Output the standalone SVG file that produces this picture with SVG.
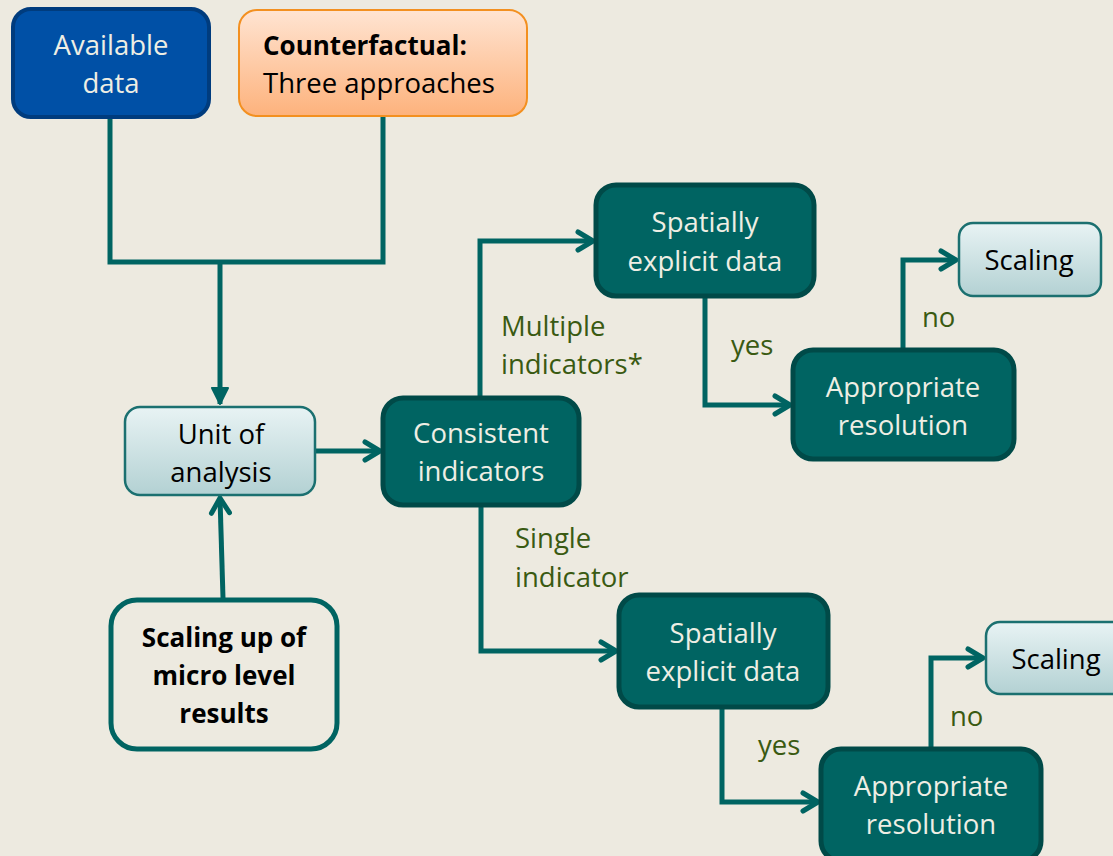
<svg xmlns="http://www.w3.org/2000/svg" width="1113" height="856" viewBox="0 0 1113 856">
  <defs>
    <linearGradient id="gOrange" x1="0" y1="0" x2="0" y2="1">
      <stop offset="0" stop-color="#FFE4D2"/>
      <stop offset="1" stop-color="#FDB27C"/>
    </linearGradient>
    <linearGradient id="gLight" x1="0" y1="0" x2="0" y2="1">
      <stop offset="0" stop-color="#E8F3F4"/>
      <stop offset="1" stop-color="#B3D1D3"/>
    </linearGradient>
    <marker id="chev" viewBox="0 0 20 24" refX="18" refY="12" markerWidth="20" markerHeight="24" markerUnits="userSpaceOnUse" orient="auto">
      <path d="M3,3 L18,12 L3,21" fill="none" stroke="#006462" stroke-width="5" stroke-linecap="round" stroke-linejoin="round"/>
    </marker>
    <marker id="tri" viewBox="0 0 20 20" refX="18" refY="10" markerWidth="20" markerHeight="20" markerUnits="userSpaceOnUse" orient="auto">
      <path d="M2,2 L18,10 L2,18 Z" fill="#006462" stroke="#006462" stroke-width="2" stroke-linejoin="round"/>
    </marker>
    <style>
      .t { font-family: "Open Sans", "Noto Sans", "Liberation Sans", sans-serif; font-size: 27.5px; text-anchor: middle; }
      .w { fill: #EEEEE4; }
      .k { fill: #000000; }
      .b { font-weight: bold; font-size: 26px; }
      .lbl { font-family: "Open Sans", "Noto Sans", "Liberation Sans", sans-serif; font-size: 27.5px; fill: #3A5A12; }
      .dark { fill: #006462; stroke: #004A48; stroke-width: 5; }
      .light { fill: url(#gLight); stroke: #1B7070; stroke-width: 2.5; }
      .conn path { fill: none; stroke: #006462; stroke-width: 5; stroke-linejoin: miter; }
    </style>
  </defs>

  <rect width="1113" height="856" fill="#EDEAE0"/>

  <!-- connectors -->
  <g id="connectors" class="conn">
    <path d="M110,118 V262 H383 V117"/>
    <path d="M220,262 V404" marker-end="url(#tri)"/>
    <path d="M223,598 L220,498" marker-end="url(#chev)"/>
    <path d="M316,451 H380" marker-end="url(#chev)"/>
    <path d="M480,397 V241 H593" marker-end="url(#chev)"/>
    <path d="M481,506 V651 H616" marker-end="url(#chev)"/>
    <path d="M705,297 V405 H790" marker-end="url(#chev)"/>
    <path d="M903,349 V260 H956" marker-end="url(#chev)"/>
    <path d="M722,708 V802 H818" marker-end="url(#chev)"/>
    <path d="M931,748 V658 H983" marker-end="url(#chev)"/>
  </g>

  <g id="available-data">
    <rect x="13" y="9" width="196" height="108" rx="18" fill="#0050A6" stroke="#003C7E" stroke-width="4"/>
    <text class="t w" x="111" y="55">Available</text>
    <text class="t w" x="111" y="93">data</text>
  </g>

  <g id="counterfactual">
    <rect x="239" y="10" width="288" height="106" rx="18" fill="url(#gOrange)" stroke="#F39020" stroke-width="2"/>
    <text class="t k b" x="263" y="55" style="text-anchor:start">Counterfactual:</text>
    <text class="t k" x="263" y="93" style="text-anchor:start">Three approaches</text>
  </g>

  <g id="unit-of-analysis">
    <rect x="125" y="407" width="190" height="88" rx="15" class="light"/>
    <text class="t k" x="221" y="444">Unit of</text>
    <text class="t k" x="221" y="482">analysis</text>
  </g>

  <g id="scaling-up">
    <rect x="111" y="600" width="226" height="149" rx="26" fill="#EDEAE0" stroke="#006462" stroke-width="5"/>
    <text class="t k b" x="224" y="647">Scaling up of</text>
    <text class="t k b" x="224" y="685">micro level</text>
    <text class="t k b" x="224" y="723">results</text>
  </g>

  <g id="consistent-indicators">
    <rect x="383" y="398" width="196" height="107" rx="20" class="dark"/>
    <text class="t w" x="481" y="443">Consistent</text>
    <text class="t w" x="481" y="481">indicators</text>
  </g>

  <g id="spatial-top">
    <rect x="596" y="185" width="218" height="111" rx="20" class="dark"/>
    <text class="t w" x="705" y="232">Spatially</text>
    <text class="t w" x="705" y="271">explicit data</text>
  </g>

  <g id="resolution-top">
    <rect x="793" y="350" width="221" height="109" rx="20" class="dark"/>
    <text class="t w" x="903" y="397">Appropriate</text>
    <text class="t w" x="903" y="435">resolution</text>
  </g>

  <g id="scaling-top">
    <rect x="959" y="223" width="142" height="73" rx="14" class="light"/>
    <text class="t k" x="1029" y="270">Scaling</text>
  </g>

  <g id="spatial-bottom">
    <rect x="619" y="595" width="209" height="112" rx="20" class="dark"/>
    <text class="t w" x="723" y="643">Spatially</text>
    <text class="t w" x="723" y="681">explicit data</text>
  </g>

  <g id="resolution-bottom">
    <rect x="821" y="749" width="220" height="112" rx="20" class="dark"/>
    <text class="t w" x="931" y="796">Appropriate</text>
    <text class="t w" x="931" y="834">resolution</text>
  </g>

  <g id="scaling-bottom">
    <rect x="986" y="622" width="142" height="72" rx="14" class="light"/>
    <text class="t k" x="1056" y="669">Scaling</text>
  </g>

  <!-- branch labels -->
  <g id="labels">
    <text class="lbl" x="501" y="336">Multiple</text>
    <text class="lbl" x="501" y="374">indicators*</text>
    <text class="lbl" x="731" y="355">yes</text>
    <text class="lbl" x="922" y="327">no</text>
    <text class="lbl" x="515" y="548">Single</text>
    <text class="lbl" x="515" y="587">indicator</text>
    <text class="lbl" x="758" y="755">yes</text>
    <text class="lbl" x="950" y="726">no</text>
  </g>
</svg>
